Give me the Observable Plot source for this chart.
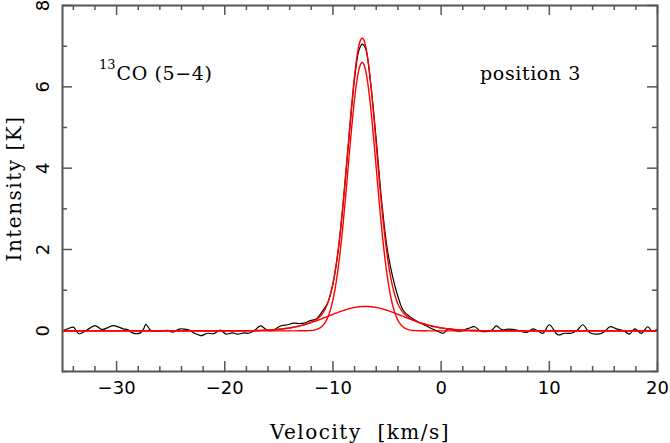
<!DOCTYPE html>
<html><head><meta charset="utf-8">
<script src="https://cdn.jsdelivr.net/npm/d3@7"></script>
<script src="https://cdn.jsdelivr.net/npm/@observablehq/plot@0.6"></script>
<style>body{margin:0;background:#fff} .wide text{letter-spacing:1.5px} .semi text{letter-spacing:0.6px}</style>
</head><body><div id="chart"></div>
<script>
// Observed spectrum (velocity km/s, intensity K)
const velocity = [-35.0,-34.5,-34.0,-33.5,-33.0,-32.5,-32.0,-31.5,-31.3,-30.8,-30.3,-29.8,-29.4,-29.0,-28.6,-28.3,-27.8,-27.5,-27.3,-27.0,-26.8,-26.3,-25.8,-25.3,-24.8,-24.4,-24.1,-23.7,-23.3,-22.8,-22.4,-22.2,-21.6,-21.0,-20.4,-19.9,-19.3,-18.8,-18.2,-17.8,-17.3,-16.7,-16.1,-15.6,-14.85,-14.2,-13.6,-13.1,-12.7,-12.1,-11.5,-11.0,-10.5,-10.0,-9.5,-9.0,-8.5,-8.0,-7.6,-7.3,-7.0,-6.5,-6.0,-5.5,-5.0,-4.5,-4.0,-3.5,-2.9,-2.2,-1.6,-1.0,-0.4,0.2,0.7,1.1,1.75,2.5,3.1,3.6,4.2,4.7,5.1,5.6,6.2,7.0,7.9,8.5,9.4,10.0,10.8,11.4,12.0,12.6,13.1,13.7,14.5,15.1,15.6,16.2,16.9,17.4,17.9,18.5,19.1,19.5,20.0];
const intensity = [0.00,0.05,0.09,-0.07,-0.02,0.06,0.13,0.05,0.03,0.08,0.13,0.09,0.05,0.03,-0.04,-0.07,-0.05,0.05,0.16,0.06,0.00,-0.01,0.00,0.01,-0.03,0.02,0.05,0.04,0.02,-0.06,-0.10,-0.12,-0.06,-0.07,0.02,-0.08,-0.05,-0.08,-0.05,-0.06,0.00,0.12,0.02,0.01,0.12,0.15,0.19,0.18,0.19,0.25,0.30,0.47,0.68,1.15,2.0,3.3,4.8,6.2,6.9,7.05,6.95,6.05,4.7,3.2,2.05,1.35,0.85,0.50,0.35,0.23,0.15,0.07,0.00,-0.06,0.05,0.02,-0.01,0.06,0.10,0.00,-0.02,0.02,0.12,0.03,0.04,0.02,-0.04,0.05,-0.06,0.15,-0.10,-0.06,-0.06,0.02,0.15,-0.04,-0.08,-0.02,0.10,0.05,0.00,-0.08,0.05,-0.06,0.10,-0.01,0.04];

// Gaussian fit components (amplitude K, centre km/s, sigma km/s)
const gaussAmp = [6.6, 0.6];
const gaussCenter = [-7.3, -7.0];
const gaussSigma = [1.3, 3.4];

const xMajor = [-30, -20, -10, 0, 10, 20];
const xMinor = [-34, -32, -28, -26, -24, -22, -18, -16, -14, -12, -8, -6, -4, -2, 2, 4, 6, 8, 12, 14, 16, 18];
const yMajor = [0, 2, 4, 6, 8];
const yMinor = [-1, 1, 3, 5, 7];

const obs = velocity.map((v, i) => ({v, t: intensity[i]}));
const grid = d3.range(-35, 20.001, 0.1);
const g = (k, v) => gaussAmp[k] * Math.exp(-((v - gaussCenter[k]) ** 2) / (2 * gaussSigma[k] ** 2));
const fitNarrow = grid.map(v => ({v, t: g(0, v)}));
const fitBroad = grid.map(v => ({v, t: g(1, v)}));
const fitTotal = grid.map(v => ({v, t: g(0, v) + g(1, v)}));

const W = 670, H = 443, mL = 62, mR = 13, mT = 5, mB = 72;
const pw = W - mL - mR, ph = H - mT - mB;
const axisCol = "#555";
const serif = "DejaVu Serif";
const sans = "DejaVu Sans";

const chart = Plot.plot({
  width: W, height: H,
  marginLeft: mL, marginRight: mR, marginTop: mT, marginBottom: mB,
  x: {domain: [-35, 20], axis: null},
  y: {domain: [-1, 8], axis: null},
  style: {background: "#fff", color: "#000"},
  marks: [
    // ticks on all four sides, pointing inward
    Plot.tickX(xMajor, {x: d => d, insetTop: ph - 10, stroke: axisCol, strokeWidth: 1.5}),
    Plot.tickX(xMinor, {x: d => d, insetTop: ph - 5, stroke: axisCol, strokeWidth: 1.5}),
    Plot.tickX(xMajor, {x: d => d, insetBottom: ph - 10, stroke: axisCol, strokeWidth: 1.5}),
    Plot.tickX(xMinor, {x: d => d, insetBottom: ph - 5, stroke: axisCol, strokeWidth: 1.5}),
    Plot.tickY(yMajor, {y: d => d, insetRight: pw - 10, stroke: axisCol, strokeWidth: 1.5}),
    Plot.tickY(yMinor, {y: d => d, insetRight: pw - 5, stroke: axisCol, strokeWidth: 1.5}),
    Plot.tickY(yMajor, {y: d => d, insetLeft: pw - 10, stroke: axisCol, strokeWidth: 1.5}),
    Plot.tickY(yMinor, {y: d => d, insetLeft: pw - 5, stroke: axisCol, strokeWidth: 1.5}),
    Plot.text(xMajor, {x: d => d, text: d => d3.format("d")(d), frameAnchor: "bottom", dy: 17,
      lineAnchor: "middle", fontSize: 18, fontFamily: sans}),
    Plot.text(yMajor, {y: d => d, text: d => d3.format("d")(d), frameAnchor: "left", dx: -19, rotate: -90,
      textAnchor: "middle", lineAnchor: "middle", fontSize: 18, fontFamily: sans}),
    Plot.text(["Velocity\u00a0\u00a0[km/s]"], {frameAnchor: "bottom", dy: 61, lineAnchor: "middle", fontSize: 20, fontFamily: serif, className: "wide"}),
    Plot.text(["Intensity [K]"], {frameAnchor: "left", dx: -48, rotate: -90, textAnchor: "middle", lineAnchor: "middle", fontSize: 20, fontFamily: serif, className: "wide"}),
    // spectrum and fits
    Plot.line(obs, {x: "v", y: "t", stroke: "#000", strokeWidth: 1.2, curve: "catmull-rom"}),
    Plot.line(fitBroad, {x: "v", y: "t", stroke: "#ff0000", strokeWidth: 1.4}),
    Plot.line(fitNarrow, {x: "v", y: "t", stroke: "#ff0000", strokeWidth: 1.4}),
    Plot.line(fitTotal, {x: "v", y: "t", stroke: "#ff0000", strokeWidth: 1.4}),
    // annotations
    Plot.text(["13"], {x: -30, y: 6.33, dy: -9, dx: -1, textAnchor: "end", fontSize: 13, fontFamily: serif}),
    Plot.text(["CO (5\u22124)"], {x: -30, y: 6.33, textAnchor: "start", lineAnchor: "middle", fontSize: 19, fontFamily: serif, className: "semi"}),
    Plot.text(["position 3"], {x: 3.6, y: 6.33, textAnchor: "start", lineAnchor: "middle", fontSize: 19, fontFamily: serif, className: "semi"}),
    Plot.frame({stroke: axisCol, strokeWidth: 2})
  ]
});
document.getElementById("chart").append(chart);
</script>
</body></html>
